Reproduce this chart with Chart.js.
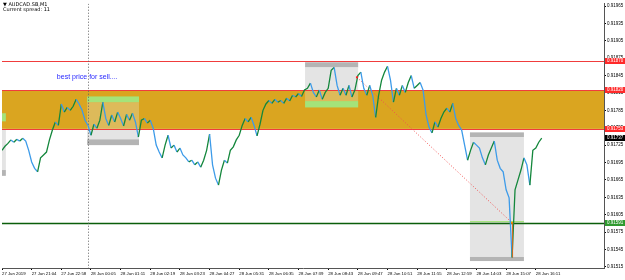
<!DOCTYPE html>
<html>
<head>
  <title>AUDCAD.SB M1</title>
  <style>
    html, body {
      margin: 0;
      padding: 0;
      background: #fff;
    }
    #chart {
      display: block;
    }
  </style>
</head>
<body>
  <canvas id="chart" width="625" height="280"></canvas>

  <script src="https://cdn.jsdelivr.net/npm/chart.js@4.4.1/dist/chart.umd.min.js"></script>

  <script>
    // time labels, one every 10 points (64 M1 bars)
    const timeLabels = [
      '27 Jun 2019', '27 Jun 21:04', '27 Jun 22:58', '28 Jun 00:05', '28 Jun 01:11',
      '28 Jun 02:19', '28 Jun 03:23', '28 Jun 04:27', '28 Jun 05:31', '28 Jun 06:35',
      '28 Jun 07:39', '28 Jun 08:43', '28 Jun 09:47', '28 Jun 10:51', '28 Jun 11:55',
      '28 Jun 12:59', '28 Jun 14:03', '28 Jun 15:07', '28 Jun 16:11'
    ];

    // price, one value per point
    const closePrices = [
      0.91716, 0.91723, 0.91728, 0.91734, 0.91730, 0.91735, 0.91732, 0.91737, 0.91732, 0.91716,
      0.91696, 0.91685, 0.91679, 0.91703, 0.91708, 0.91713, 0.91734, 0.91751, 0.91765, 0.91759,
      0.91796, 0.91782, 0.91790, 0.91785, 0.91792, 0.91804, 0.91796, 0.91785, 0.91768, 0.91759,
      0.91742, 0.91761, 0.91754, 0.91768, 0.91799, 0.91771, 0.91759, 0.91777, 0.91765, 0.91782,
      0.91771, 0.91758, 0.91778, 0.91768, 0.91780, 0.91765, 0.91739, 0.91768, 0.91771, 0.91763,
      0.91768, 0.91754, 0.91725, 0.91713, 0.91703, 0.91725, 0.91742, 0.91720, 0.91725, 0.91713,
      0.91720, 0.91708, 0.91703, 0.91696, 0.91699, 0.91691, 0.91696, 0.91687, 0.91699, 0.91716,
      0.91744, 0.91691, 0.91668, 0.91656, 0.91682, 0.91699, 0.91694, 0.91716, 0.91722, 0.91734,
      0.91742, 0.91759, 0.91771, 0.91765, 0.91773, 0.91759, 0.91741, 0.91761, 0.91785, 0.91796,
      0.91802, 0.91797, 0.91804, 0.91799, 0.91802, 0.91797, 0.91806, 0.91801, 0.91811, 0.91808,
      0.91814, 0.91809, 0.91820, 0.91823, 0.91832, 0.91816, 0.91808, 0.91820, 0.91804, 0.91816,
      0.91823, 0.91854, 0.91859, 0.91828, 0.91811, 0.91823, 0.91811, 0.91828, 0.91808, 0.91820,
      0.91845, 0.91851, 0.91823, 0.91811, 0.91828, 0.91811, 0.91773, 0.91811, 0.91837, 0.91851,
      0.91861, 0.91837, 0.91799, 0.91823, 0.91811, 0.91828, 0.91816, 0.91833, 0.91845, 0.91823,
      0.91828, 0.91833, 0.91820, 0.91777, 0.91756, 0.91746, 0.91765, 0.91756, 0.91771, 0.91782,
      0.91789, 0.91782, 0.91797, 0.91771, 0.91759, 0.91751, 0.91725, 0.91699, 0.91716, 0.91730,
      0.91725, 0.91720, 0.91703, 0.91691, 0.91708, 0.91720, 0.91732, 0.91699, 0.91685, 0.91679,
      0.91648, 0.91634, 0.91531, 0.91648, 0.91665, 0.91682, 0.91703, 0.91691, 0.91656, 0.91716,
      0.91720, 0.91730, 0.91737
    ];

    const priceTicks = [
      0.91515, 0.91545, 0.91575, 0.91605, 0.91635, 0.91665, 0.91695, 0.91725,
      0.91755, 0.91785, 0.91815, 0.91845, 0.91875, 0.91905, 0.91935, 0.91965
    ];

    // horizontal levels
    const redLevels = [0.91870, 0.91820, 0.91753];
    const bandPrices = [0.91820, 0.91753];
    const greenLevel = 0.91591;
    const lastPrice = 0.91737;

    // zone boxes: [kind, fromPoint, toPoint, topPrice, bottomPrice]
    const zoneBoxes = [
      ['green', 0, 1.3, 0.91780, 0.91766],
      ['light', 0, 1.3, 0.91753, 0.91682],
      ['dark', 0, 1.3, 0.91682, 0.91672],
      ['green', 28.7, 46.2, 0.91809, 0.91799],
      ['tint', 28.7, 46.2, 0.91799, 0.91753],
      ['light', 28.7, 46.2, 0.91753, 0.91735],
      ['dark', 28.7, 46.2, 0.91735, 0.91725],
      ['dark', 102.2, 120.1, 0.91868, 0.91859],
      ['light', 102.2, 120.1, 0.91859, 0.91820],
      ['tint', 102.2, 120.1, 0.91820, 0.91801],
      ['green', 102.2, 120.1, 0.91801, 0.91790],
      ['dark', 157.8, 176, 0.91747, 0.91739],
      ['light', 157.8, 176, 0.91739, 0.91532],
      ['dark', 157.8, 176, 0.91532, 0.91525],
      ['green', 157.8, 176, 0.91594, 0.91592]
    ];

    const trendPoints = [119.7, 172];
    const trendPrices = [0.91842, 0.91591];
    const separatorPoint = 29.0;
    const notePoint = 18.5;
    const notePrice = 0.91842;

    const zoneColors = {
      green: '#a4e37a',
      light: '#e4e4e4',
      dark: '#b4b4b4',
      tint: 'rgba(225,225,200,0.35)'
    };

    const points = closePrices.map((p, i) => ({ x: i, y: p }));

    const objectsPlugin = {
      id: 'mtObjects',
      beforeDatasetsDraw(chart) {
        const { ctx, chartArea: a, scales: { x, y } } = chart;
        ctx.save();
        ctx.beginPath();
        ctx.rect(a.left, a.top, a.right - a.left, a.bottom - a.top);
        ctx.clip();

        // goldenrod band
        const bTop = y.getPixelForValue(bandPrices[0]);
        const bBot = y.getPixelForValue(bandPrices[1]);
        ctx.fillStyle = '#daa520';
        ctx.fillRect(a.left, bTop, a.right - a.left, bBot - bTop);

        zoneBoxes.forEach(([kind, x0, x1, p0, p1]) => {
          const px0 = x.getPixelForValue(x0);
          const px1 = x.getPixelForValue(x1);
          const py0 = y.getPixelForValue(p0);
          const py1 = y.getPixelForValue(p1);
          ctx.fillStyle = zoneColors[kind];
          ctx.fillRect(px0, py0, px1 - px0, Math.max(1, py1 - py0));
        });

        // red levels
        ctx.lineWidth = 1;
        redLevels.forEach(p => {
          const py = Math.round(y.getPixelForValue(p)) + 0.5;
          ctx.strokeStyle = '#f03c3c';
          ctx.beginPath();
          ctx.moveTo(a.left, py);
          ctx.lineTo(a.right, py);
          ctx.stroke();
        });

        // green level
        const gy = Math.round(y.getPixelForValue(greenLevel)) + 0.5;
        ctx.strokeStyle = '#0b5e0b';
        ctx.lineWidth = 1.5;
        ctx.beginPath();
        ctx.moveTo(a.left, gy);
        ctx.lineTo(a.right, gy);
        ctx.stroke();

        // vertical dotted separator
        const sx = Math.round(x.getPixelForValue(separatorPoint)) + 0.5;
        ctx.strokeStyle = '#606060';
        ctx.lineWidth = 1;
        ctx.setLineDash([1, 2]);
        ctx.beginPath();
        ctx.moveTo(sx, a.top);
        ctx.lineTo(sx, a.bottom);
        ctx.stroke();

        // dotted trend line
        ctx.strokeStyle = '#f05050';
        ctx.beginPath();
        ctx.moveTo(x.getPixelForValue(trendPoints[0]), y.getPixelForValue(trendPrices[0]));
        ctx.lineTo(x.getPixelForValue(trendPoints[1]), y.getPixelForValue(trendPrices[1]));
        ctx.stroke();
        ctx.setLineDash([]);

        ctx.restore();
      },
      afterDatasetsDraw(chart) {
        const { ctx, scales: { x, y } } = chart;
        ctx.save();
        // trend end markers
        ctx.fillStyle = '#ff2020';
        ctx.fillRect(x.getPixelForValue(trendPoints[0]) - 1, y.getPixelForValue(trendPrices[0]) - 1, 2, 2);
        ctx.fillStyle = '#ff8c00';
        ctx.fillRect(x.getPixelForValue(trendPoints[1]) - 1, y.getPixelForValue(trendPrices[1]) - 1, 2, 2);
        ctx.strokeStyle = '#d2691e';
        ctx.beginPath();
        ctx.moveTo(x.getPixelForValue(trendPoints[1]) + 0.5, y.getPixelForValue(trendPrices[1]));
        ctx.lineTo(x.getPixelForValue(trendPoints[1]) + 0.5, y.getPixelForValue(closePrices[172]));
        ctx.stroke();

        // note text
        ctx.fillStyle = '#2a2aff';
        ctx.font = '7px "Liberation Sans", Arial, sans-serif';
        ctx.textBaseline = 'middle';
        ctx.textAlign = 'left';
        ctx.fillText('best price for sell....', x.getPixelForValue(notePoint), y.getPixelForValue(notePrice));

        // header
        ctx.fillStyle = '#000';
        ctx.font = '5px "DejaVu Sans", sans-serif';
        ctx.fillText('\u25BC AUDCAD.SB,M1', 3, 5);
        ctx.fillText('Current spread: 11', 3, 10);

        // price labels on the axis
        const tag = (p, bg) => {
          const py = Math.round(y.getPixelForValue(p));
          ctx.fillStyle = bg;
          ctx.fillRect(y.left + 1, py - 3, 21, 6);
          ctx.fillStyle = '#fff';
          ctx.font = '4.5px "Liberation Sans", Arial, sans-serif';
          ctx.textBaseline = 'middle';
          ctx.fillText(p.toFixed(5), y.left + 3, py);
        };
        redLevels.forEach(p => tag(p, '#ff2a2a'));
        tag(lastPrice, '#000');
        tag(greenLevel, '#2f9a2f');
        ctx.restore();
      }
    };

    const chart = new Chart(document.getElementById('chart'), {
      type: 'line',
      data: {
        datasets: [{
          data: points,
          borderWidth: 1.3,
          pointRadius: 0,
          tension: 0,
          segment: {
            borderColor: c => c.p1.parsed.y >= c.p0.parsed.y ? '#14873c' : '#3d9be9'
          }
        }]
      },
      options: {
        responsive: false,
        animation: false,
        layout: { padding: { top: 2, left: 2, right: 0, bottom: 0 } },
        plugins: {
          legend: { display: false },
          tooltip: { enabled: false }
        },
        scales: {
          x: {
            type: 'linear',
            min: 0,
            max: 203,
            afterBuildTicks: s => {
              s.ticks = timeLabels.map((_, i) => ({ value: i * 10 }));
            },
            afterFit: s => { s.height = 12; },
            grid: { drawOnChartArea: false, drawTicks: true, tickLength: 2, color: '#000' },
            border: { display: true, color: '#555' },
            ticks: {
              autoSkip: false,
              maxRotation: 0,
              align: 'start',
              padding: 1,
              color: '#000',
              font: { size: 4.3, family: '"Liberation Sans", Arial, sans-serif' },
              callback: (v, i) => timeLabels[i]
            }
          },
          y: {
            position: 'right',
            min: 0.91513,
            max: 0.91969,
            afterBuildTicks: s => {
              s.ticks = priceTicks.map(v => ({ value: v }));
            },
            afterFit: s => { s.width = 21; },
            grid: { drawOnChartArea: false, drawTicks: true, tickLength: 2, color: '#000' },
            border: { display: true, color: '#555' },
            ticks: {
              padding: 1,
              color: '#000',
              font: { size: 4.5, family: '"Liberation Sans", Arial, sans-serif' },
              callback: v => v.toFixed(5)
            }
          }
        }
      },
      plugins: [objectsPlugin]
    });
  </script>
</body>
</html>
